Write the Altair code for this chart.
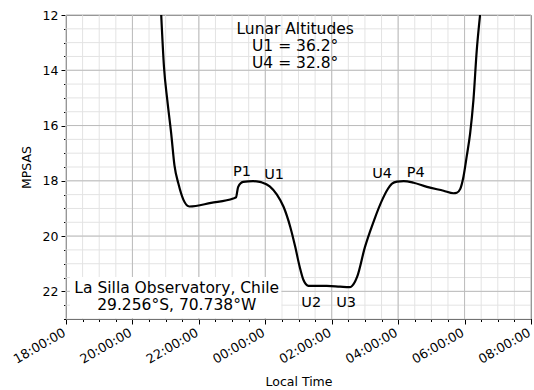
import altair as alt
import pandas as pd

# ---- data ----
times = ["20:52", "20:57", "21:03", "21:10", "21:16", "21:23", "21:32", "21:43",
         "22:22", "23:02", "23:07", "23:11", "23:20", "23:38", "23:50", "23:54",
         "00:08", "00:21", "00:33", "00:45", "00:54", "01:02", "01:09", "01:18",
         "01:51", "02:15", "02:32", "02:42", "02:46", "03:00", "03:09", "03:17",
         "03:31", "03:40", "03:49", "03:58", "04:10", "04:28", "04:52", "05:22",
         "05:40", "05:46", "05:52", "05:58", "06:04", "06:10", "06:16", "06:22", "06:28"]
mpsas = [12.0, 13.88, 15.08, 16.28, 17.45, 18.1, 18.68, 18.93,
         18.80, 18.64, 18.60, 18.22, 18.04, 18.01, 18.04, 18.06,
         18.20, 18.50, 18.94, 19.66, 20.38, 21.10, 21.59, 21.80,
         21.80, 21.83, 21.85, 21.65, 21.47, 20.40, 19.85, 19.40,
         18.70, 18.34, 18.10, 18.03, 18.01, 18.07, 18.22, 18.36,
         18.45, 18.43, 18.30, 17.85, 17.10, 16.29, 15.08, 13.28, 12.0]

phase_names = ["P1", "U1", "U2", "U3", "U4", "P4"]
phase_times = ["23:18", "00:16", "01:23", "02:26", "03:31", "04:32"]
phase_mpsas = [17.68, 17.79, 22.42, 22.42, 17.74, 17.70]

info_lines = ["Lunar Altitudes", "U1 = 36.2°", "U4 = 32.8°"]
info_time = "00:54"
info_mpsas = [12.52, 13.13, 13.75]

site_lines = ["La Silla Observatory, Chile", "29.256°S, 70.738°W"]
site_time = "21:20"
site_mpsas = [21.88, 22.51]
site_box_times = ["18:07", "00:29"]
site_box_mpsas = [21.48, 22.96]

x_major_hours = [0, 2, 4, 6, 8, 10, 12, 14]          # 18:00 .. 08:00
x_minor_hours = [i * 0.5 for i in range(29)]          # every 30 min
y_major_values = [12, 14, 16, 18, 20, 22]
y_minor_values = [12 + i * 0.5 for i in range(23)]    # every 0.5 mag


def to_hours(s):
    h, m = map(int, s.split(":"))
    return ((h + m / 60.0) - 18.0) % 24.0


curve = pd.DataFrame({"t": [to_hours(s) for s in times], "mpsas": mpsas})
phases = pd.DataFrame({"t": [to_hours(s) for s in phase_times],
                       "mpsas": phase_mpsas, "label": phase_names})
info = pd.DataFrame({"t": [to_hours(info_time)] * len(info_lines),
                     "mpsas": info_mpsas, "label": info_lines})
site = pd.DataFrame({"t": [to_hours(site_time)] * len(site_lines),
                     "mpsas": site_mpsas, "label": site_lines})
box = pd.DataFrame({"t": [to_hours(site_box_times[0])], "t2": [to_hours(site_box_times[1])],
                    "mpsas": [site_box_mpsas[0]], "m2": [site_box_mpsas[1]]})

FONT = "DejaVu Sans"
xscale = alt.Scale(domain=[0, 14], nice=False, zero=False)
yscale = alt.Scale(domain=[12, 23], nice=False, zero=False, reverse=True)

MAJOR_GRID = "#bcbcbc"
MINOR_GRID = "#e3e3e3"

x_axis = alt.Axis(
    title="Local Time", values=x_major_hours, grid=False, orient="bottom",
    tickSize=5, tickColor="black", domainColor="black",
    labelExpr="format((datum.value + 18) % 24, '02d') + ':00:00'",
    labelAngle=-30, labelAlign="right", labelBaseline="top", labelPadding=2,
    labelOffset=-5,
    labelOverlap=False, labelFont=FONT, labelFontSize=12.8, labelColor="black",
    titleFont=FONT, titleFontSize=12.5, titleFontWeight="normal", titleColor="black",
    titlePadding=10,
)
y_axis = alt.Axis(
    title="MPSAS", values=y_major_values, grid=False, orient="left",
    tickSize=5, tickColor="black", domainColor="black",
    format="d",
    labelOverlap=False, labelFont=FONT, labelFontSize=12.5, labelColor="black",
    labelPadding=3,
    titleFont=FONT, titleFontSize=12.5, titleFontWeight="normal", titleColor="black",
    titlePadding=9,
)
x_minor_axis = alt.Axis(values=x_minor_hours, grid=False, orient="bottom", labels=False,
                        domain=False, tickSize=2.5, tickColor="black", title="")
y_minor_axis = alt.Axis(values=y_minor_values, grid=False, orient="left", labels=False,
                        domain=False, tickSize=2.5, tickColor="black", title="")

xgrid_minor = alt.Chart(pd.DataFrame({"t": x_minor_hours})).mark_rule(
    color=MINOR_GRID, strokeWidth=1).encode(x=alt.X("t:Q", scale=xscale, axis=x_minor_axis))
ygrid_minor = alt.Chart(pd.DataFrame({"mpsas": y_minor_values})).mark_rule(
    color=MINOR_GRID, strokeWidth=1).encode(y=alt.Y("mpsas:Q", scale=yscale, axis=y_minor_axis))
xgrid_major = alt.Chart(pd.DataFrame({"t": x_major_hours})).mark_rule(
    color=MAJOR_GRID, strokeWidth=1).encode(x=alt.X("t:Q", scale=xscale, axis=None))
ygrid_major = alt.Chart(pd.DataFrame({"mpsas": y_major_values})).mark_rule(
    color=MAJOR_GRID, strokeWidth=1).encode(y=alt.Y("mpsas:Q", scale=yscale, axis=None))

box_layer = alt.Chart(box).mark_rect(color="white", opacity=1).encode(
    x=alt.X("t:Q", scale=xscale, axis=None), x2="t2:Q",
    y=alt.Y("mpsas:Q", scale=yscale, axis=None), y2="m2:Q",
)

line_layer = alt.Chart(curve).mark_line(color="black", strokeWidth=2.2, clip=True,
                                        interpolate="monotone").encode(
    x=alt.X("t:Q", scale=xscale, axis=x_axis),
    y=alt.Y("mpsas:Q", scale=yscale, axis=y_axis),
)


def text_layer(df, size):
    return alt.Chart(df).mark_text(font=FONT, fontSize=size, color="black",
                                   align="center", baseline="middle").encode(
        x=alt.X("t:Q", scale=xscale, axis=None),
        y=alt.Y("mpsas:Q", scale=yscale, axis=None),
        text="label:N",
    )


chart = alt.layer(
    xgrid_minor, ygrid_minor, xgrid_major, ygrid_major, box_layer, line_layer,
    text_layer(phases, 14.5), text_layer(info, 15.5), text_layer(site, 15.5),
).resolve_axis(x="independent", y="independent").properties(
    width=465, height=304,
    autosize=alt.AutoSizeParams(type="none"),
    padding={"left": 66, "top": 15, "right": 3, "bottom": 71},
    background="white",
).configure_view(stroke="black", strokeWidth=1)

chart.save("out.html", embed_options={"renderer": "svg", "actions": False})
